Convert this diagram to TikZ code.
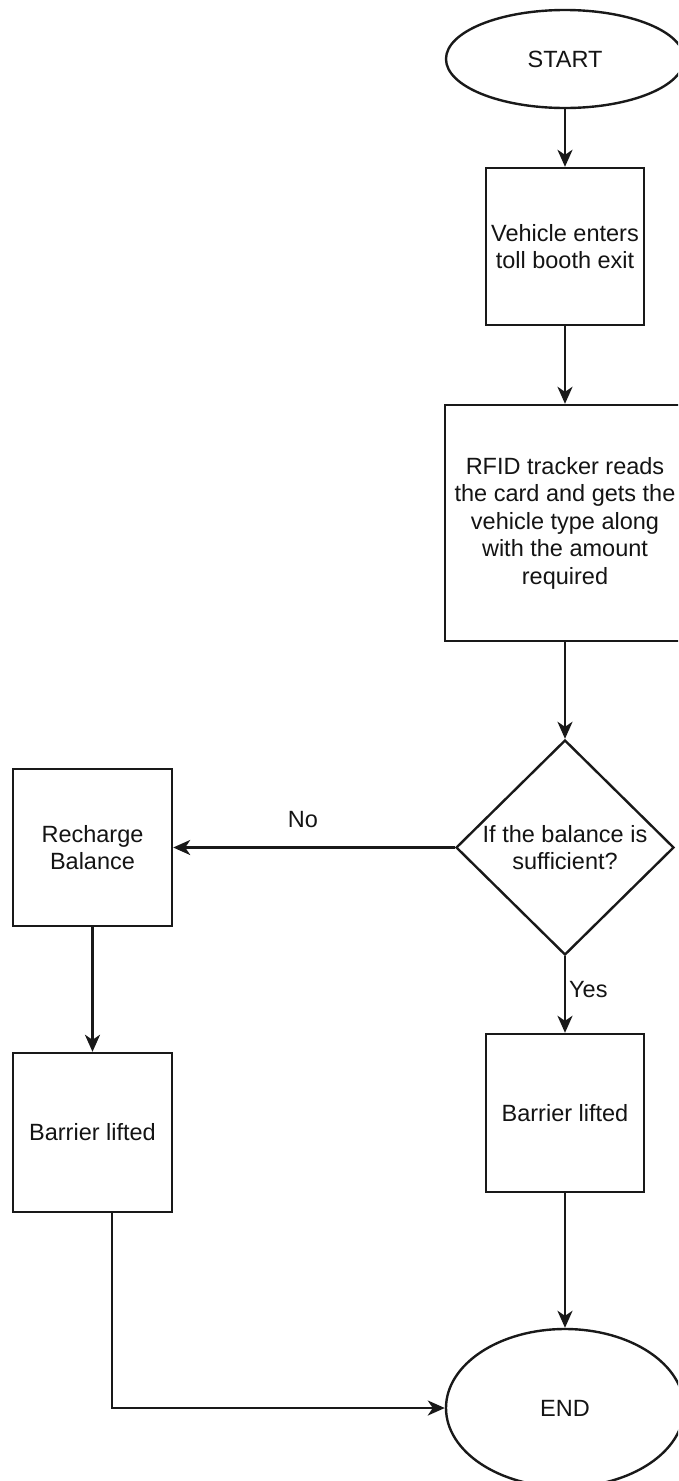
\documentclass[tikz,border=0pt]{standalone}
\usepackage{fontspec}
\setmainfont{Liberation Sans}
\usetikzlibrary{shapes.geometric,arrows.meta}

\begin{document}
\begin{tikzpicture}[x=1pt,y=-1pt,
  every node/.style={font=\fontsize{23.5}{27.5}\selectfont, align=center, inner sep=0pt, text=black!92},
  proc/.style={draw=black!90, line width=2.4pt, rectangle},
  term/.style={draw=black!90, line width=2.4pt, ellipse},
  decide/.style={draw=black!90, line width=2.4pt, diamond},
  flow/.style={draw=black!90, line width=2.4pt, -{Stealth[length=17pt,width=15pt,inset=5pt]}},
]
\useasboundingbox (0,0) rectangle (678,1481);
\clip (0,0) rectangle (678,1481);
\fill[white] (0,0) rectangle (678,1481);

% main column
\node[term, minimum width=238pt, minimum height=98pt] (start) at (565,59) {START};
\node[proc, minimum width=158pt, minimum height=157pt] (enter) at (565,246.5) {Vehicle enters\\toll booth exit};
\node[proc, minimum width=240pt, minimum height=236pt] (rfid) at (565,523) {RFID tracker reads\\the card and gets the\\vehicle type along\\with the amount\\required};
\node[decide, minimum width=218pt, minimum height=215pt] (check) at (565,847.5) {};
\node (checktext) at (565,847.5) {If the balance is\\sufficient?};
\node[proc, minimum width=158pt, minimum height=158pt] (liftR) at (565,1113) {Barrier lifted};
\node[term, minimum width=238pt, minimum height=158pt] (end) at (565,1408) {END};

% recharge branch
\node[proc, minimum width=159pt, minimum height=157pt] (recharge) at (92.5,847.5) {Recharge\\Balance};
\node[proc, minimum width=159pt, minimum height=159pt] (liftL) at (92.5,1132.5) {Barrier lifted};

% connectors
\draw[flow] (start) -- (enter);
\draw[flow] (enter) -- (rfid);
\draw[flow] (rfid) -- (check);
\draw[flow] (check.west) -- (recharge.east);
\node (no) at (303,820) {No};
\draw[flow] (check.south) -- (liftR.north);
\node[anchor=west] (yes) at (569,990) {Yes};
\draw[flow] (liftR) -- (end);
\draw[flow] (recharge) -- (liftL);
\draw[flow] ([xshift=19.5pt]liftL.south) |- (end.west);
\end{tikzpicture}
\end{document}
